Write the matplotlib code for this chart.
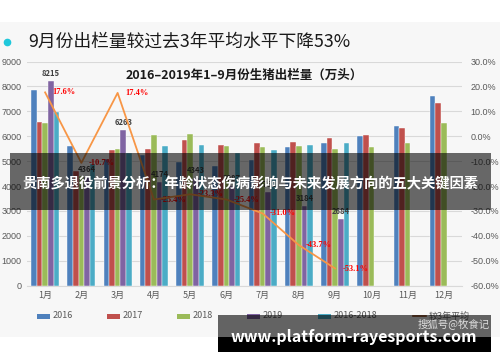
import numpy as np
import matplotlib
matplotlib.use("Agg")
import matplotlib.pyplot as plt
from matplotlib.patches import Rectangle
from matplotlib.lines import Line2D

plt.rcParams['font.family'] = ['Noto Sans CJK SC', 'DejaVu Sans']

# data
months = ['1月', '2月', '3月', '4月', '5月', '6月', '7月', '8月', '9月', '10月', '11月', '12月']
y2016 = [7860, 5620, 5080, 5240, 4980, 4800, 5050, 5580, 5740, 6010, 6430, 7630]
y2017 = [6560, 4620, 5450, 5490, 5850, 5640, 5720, 5780, 5940, 6050, 6350, 7350]
y2018 = [6520, 4420, 5490, 6050, 6090, 5595, 5580, 5605, 5490, 5580, 5740, 6550]
y2019 = [8215, 4364, 6263, 4174, 4343, 3987, 3760, 3184, 2684]
avg3 = [6990, 4887, 5340, 5595, 5663, 5345, 5450, 5655, 5723]
pct = [17.6, -10.7, 17.4, -25.4, -23.3, -25.4, -31.0, -43.7, -53.1]
series_names = ['2016', '2017', '2018', '2019', '2016-2018']
line_name = '较3年平均'
colors = ['#4F81BD', '#C0504D', '#9BBB59', '#8064A2', '#4BACC6']
line_color = '#F79646'

W, H = 500, 362
def fx(x):
    return x / W
def fy(y):
    return 1 - y / H

fig = plt.figure(figsize=(5, 3.62), dpi=100)
fig.patch.set_facecolor('white')

# light grey slide background
fig.add_artist(Rectangle((0, fy(337)), 1, fy(22) - fy(337), transform=fig.transFigure,
                         facecolor='#f7f7f7', edgecolor='none', zorder=-1))

# slide heading
fig.add_artist(Line2D([fx(7)], [fy(42)], transform=fig.transFigure, marker='o',
                      markersize=4.5, color='#1fc8db', linestyle='none'))
fig.text(fx(28), fy(42), '9月份出栏量较过去3年平均水平下降53%', fontsize=12.8,
         color='#1a1a1a', va='center', ha='left')

ax = fig.add_axes([fx(27), fy(285.7), fx(462) - fx(27), fy(61.5) - fy(285.7)])
ax.set_facecolor('none')
x = np.arange(len(months))
bw = 0.155
all_series = [y2016, y2017, y2018, y2019, avg3]
for i, (vals, c) in enumerate(zip(all_series, colors)):
    xs = x[:len(vals)] + (i - 2) * bw
    ax.bar(xs, vals, width=bw, color=c, edgecolor='white', linewidth=0.3, zorder=3)

for xi, v in zip(x[:len(y2019)], y2019):
    ax.text(xi + 1 * bw, v + 120, str(v), ha='center', va='bottom', fontsize=5.5,
            fontweight='bold', color='#404040', zorder=5)

ax.set_xlim(-0.5, len(months) - 0.5)
ax.set_ylim(0, 9000)
ax.set_yticks(np.arange(0, 9001, 1000))
ax.set_xticks(x)
ax.set_xticklabels(months, fontsize=6.5, color='#595959')
ax.tick_params(axis='y', labelsize=6.5, labelcolor='#595959', length=0, pad=4)
ax.tick_params(axis='x', length=0, pad=4)
for lab in ax.get_yticklabels():
    lab.set_family(['Liberation Sans', 'DejaVu Sans'])
ax.grid(axis='y', color='#d9d9d9', linewidth=0.8, zorder=0)
for s in ['top', 'right', 'left']:
    ax.spines[s].set_visible(False)
ax.spines['bottom'].set_color('#d9d9d9')

ax2 = ax.twinx()
ax2.set_ylim(-60, 30)
ax2.set_yticks(np.arange(-60, 31, 10))
ax2.set_yticklabels(['%.1f%%' % t for t in np.arange(-60, 31, 10)], fontsize=6.5,
                    color='#595959', family=['Liberation Sans', 'DejaVu Sans'])
ax2.tick_params(axis='y', length=0, pad=6)
for s in ax2.spines.values():
    s.set_visible(False)
ax2.plot(x[:len(pct)], pct, color=line_color, linewidth=1.3, zorder=4)
for xi, p in zip(x[:len(pct)], pct):
    ax2.text(xi + 0.2, p, '%.1f%%' % p, ha='left', va='center', fontsize=6,
             fontweight='bold', color='#ff0000', family=['Liberation Serif', 'DejaVu Serif'])

ax.text(0.5, 0.94, '2016–2019年1–9月份生猪出栏量（万头）', transform=ax.transAxes,
        ha='center', va='center', fontsize=9, fontweight='bold', color='#1a1a1a')

# legend
leg_x = [37, 107, 177, 247, 318]
for lx, name, c in zip(leg_x, series_names, colors):
    fig.add_artist(Rectangle((fx(lx), fy(318.5)), fx(13), fy(313.5) - fy(318.5),
                             transform=fig.transFigure, facecolor=c, edgecolor='none'))
    fig.text(fx(lx + 16), fy(316), name, fontsize=6.5, color='#595959', va='center')
fig.add_artist(Line2D([fx(413), fx(426)], [fy(316), fy(316)], transform=fig.transFigure,
                      color='#8c4a1f', linewidth=1.2))
fig.text(fx(429), fy(316), line_name, fontsize=6.5, color='#595959', va='center')

# overlay banner
fig.add_artist(Rectangle((fx(10), fy(210)), fx(481), fy(153) - fy(210), transform=fig.transFigure,
                         facecolor='black', alpha=0.58, edgecolor='none', zorder=10))
fig.text(fx(250), fy(184), '贵南多退役前景分析：年龄状态伤病影响与未来发展方向的五大关键因素',
         fontsize=10.3, fontweight='bold', color='white', ha='center', va='center', zorder=11)

# bottom url strip
fig.add_artist(Rectangle((fx(218), fy(337)), fx(273), fy(315) - fy(337), transform=fig.transFigure,
                         facecolor='black', alpha=0.6, edgecolor='none', zorder=10))
fig.add_artist(Rectangle((fx(218), fy(352)), fx(273), fy(337) - fy(352), transform=fig.transFigure,
                         facecolor='black', edgecolor='none', zorder=10))
fig.text(fx(454), fy(324), '搜狐号@牧食记', fontsize=7.5, color='#dddddd', ha='center',
         va='center', zorder=11)
fig.text(fx(354), fy(337), 'www.platform-rayesports.com', fontsize=11.5, fontweight='bold',
         color='white', ha='center', va='center', zorder=11)

fig.savefig('out.png', dpi=100)
